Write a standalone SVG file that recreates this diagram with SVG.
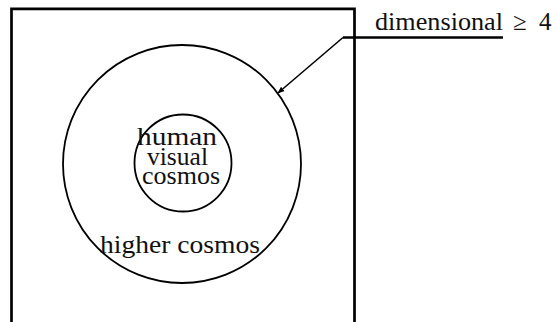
<svg xmlns="http://www.w3.org/2000/svg" width="556" height="322" viewBox="0 0 556 322">
<style>
.bg{fill:#fff}
.frame{fill:none;stroke:#000;stroke-width:2.7}
.circ{fill:none;stroke:#000;stroke-width:1.8}
.lbl{font-family:'Liberation Serif','Times New Roman',serif;font-size:25px;fill:#111}
.conn{fill:none;stroke:#000}
</style>
<defs>
<marker id="arr" viewBox="0 0 10 10" refX="9" refY="5" markerWidth="7" markerHeight="7" markerUnits="userSpaceOnUse" orient="auto">
<path d="M0,1 L10,5 L0,9 Z" fill="#000"/>
</marker>
</defs>
<rect class="bg" x="0" y="0" width="556" height="322"/>
<g id="frame">
<path class="frame" d="M11.5,330 V8.8 H354.5 V330"/>
</g>
<g id="higher-cosmos">
<circle class="circ" cx="182" cy="164" r="119"/>
<text class="lbl" font-family="Liberation Serif, serif" x="100" y="253" textLength="160" lengthAdjust="spacingAndGlyphs">higher cosmos</text>
</g>
<g id="human-visual-cosmos">
<circle class="circ" cx="183" cy="163" r="48.5"/>
<text class="lbl" font-family="Liberation Serif, serif" x="137" y="145" textLength="80" lengthAdjust="spacingAndGlyphs">human</text>
<text class="lbl" font-family="Liberation Serif, serif" x="147" y="165" textLength="61" lengthAdjust="spacingAndGlyphs">visual</text>
<text class="lbl" font-family="Liberation Serif, serif" x="142" y="184" textLength="78" lengthAdjust="spacingAndGlyphs">cosmos</text>
</g>
<g id="dimension-label">
<text class="lbl" font-family="Liberation Serif, serif" y="30"><tspan x="375" textLength="128" lengthAdjust="spacingAndGlyphs">dimensional</tspan><tspan x="513">≥</tspan><tspan x="539">4</tspan></text>
</g>
<g id="connectors">
<path class="conn" stroke-width="2.6" d="M503,37.5 H343"/>
<path class="conn" stroke-width="1.6" d="M343,37.5 L278,93" marker-end="url(#arr)"/>
</g>
</svg>
